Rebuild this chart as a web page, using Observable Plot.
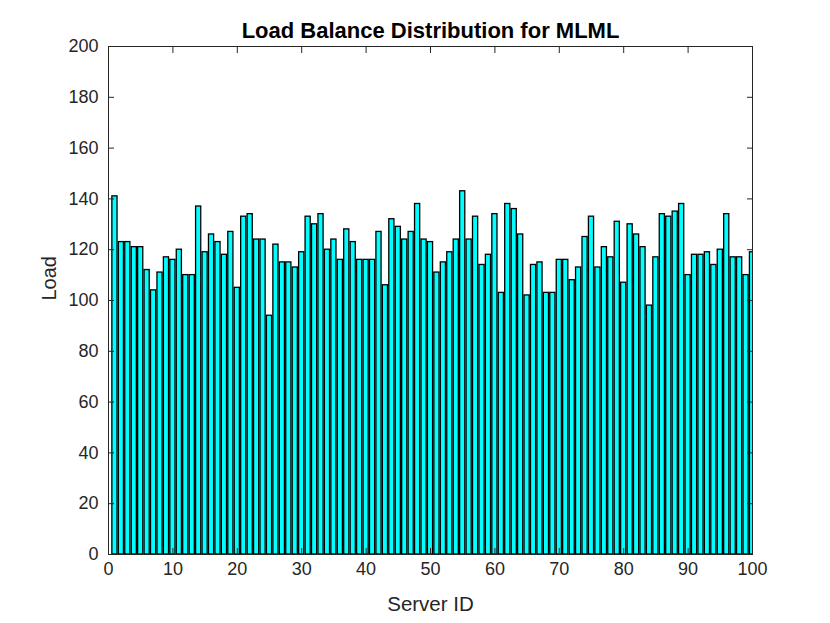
<!DOCTYPE html>
<html>
<head>
<meta charset="utf-8">
<script src="https://cdn.jsdelivr.net/npm/d3@7"></script>
<script src="https://cdn.jsdelivr.net/npm/@observablehq/plot@0.6"></script>
<style>
  html, body { margin: 0; padding: 0; background: #fff; }
  #chart { width: 830px; height: 623px; }
</style>
</head>
<body>
<div id="chart"></div>
<script>
const titleText = "Load Balance Distribution for MLML";
const xLabel = "Server ID";
const yLabel = "Load";

const serverIds = d3.range(1, 101);
const loads = [
  141, 123, 123, 121, 121, 112, 104, 111, 117, 116,
  120, 110, 110, 137, 119, 126, 123, 118, 127, 105,
  133, 134, 124, 124, 94, 122, 115, 115, 113, 119,
  133, 130, 134, 120, 124, 116, 128, 123, 116, 116,
  116, 127, 106, 132, 129, 124, 127, 138, 124, 123,
  111, 115, 119, 124, 143, 124, 133, 114, 118, 134,
  103, 138, 136, 126, 102, 114, 115, 103, 103, 116,
  116, 108, 113, 125, 133, 113, 121, 117, 131, 107,
  130, 126, 121, 98, 117, 134, 133, 135, 138, 110,
  118, 118, 119, 114, 120, 134, 117, 117, 110, 119
];
const xTicks = [0, 10, 20, 30, 40, 50, 60, 70, 80, 90, 100];
const yTicks = [0, 20, 40, 60, 80, 100, 120, 140, 160, 180, 200];

const data = serverIds.map((id, i) => ({id, load: loads[i]}));
const ink = "#262626";
const font = "'Liberation Sans', Arial, Helvetica, sans-serif";

const chart = Plot.plot({
  width: 830,
  height: 623,
  marginLeft: 108,
  marginRight: 78,
  marginTop: 46,
  marginBottom: 69,
  style: {fontFamily: font, color: ink, background: "#fff", fontSize: "18px"},
  x: {domain: [0, 100]},
  y: {domain: [0, 200]},
  marks: [
    Plot.rectY(data, {
      x1: d => d.id - 0.4,
      x2: d => d.id + 0.4,
      y: "load",
      fill: "#00ffff",
      stroke: "#000",
      strokeWidth: 1.3,
      clip: true
    }),
    Plot.frame({stroke: ink, strokeWidth: 1}),
    Plot.axisX({anchor: "bottom", ticks: xTicks, tickSize: -6, tickPadding: 14, label: null, fontSize: 18, stroke: ink, fill: ink}),
    Plot.axisX({anchor: "top", ticks: xTicks, tickSize: -6, tickFormat: () => "", label: null, stroke: ink}),
    Plot.axisY({anchor: "left", ticks: yTicks, tickSize: -6, tickPadding: 16, label: null, fontSize: 18, stroke: ink, fill: ink}),
    Plot.axisY({anchor: "right", ticks: yTicks, tickSize: -6, tickFormat: () => "", label: null, stroke: ink}),
    Plot.text([titleText], {frameAnchor: "top", lineAnchor: "bottom", dy: -9, fontSize: 22, fontWeight: "bold", fill: "#000"}),
    Plot.text([xLabel], {frameAnchor: "bottom", lineAnchor: "bottom", dy: 56, fontSize: 20.5, fill: ink}),
    Plot.text([yLabel], {frameAnchor: "left", lineAnchor: "bottom", rotate: -90, dx: -53, fontSize: 20, fill: ink})
  ]
});
document.getElementById("chart").appendChild(chart);
</script>
</body>
</html>
